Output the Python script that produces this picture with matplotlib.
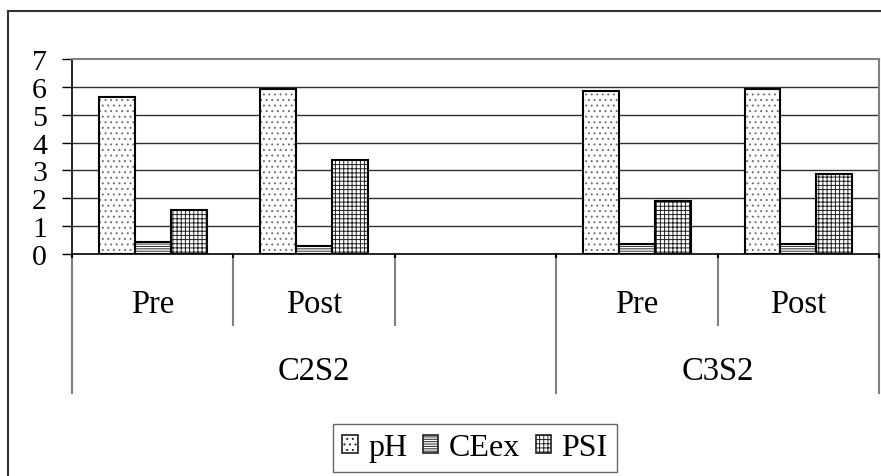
import numpy as np
import matplotlib
matplotlib.use("Agg")
import matplotlib.pyplot as plt
from matplotlib.lines import Line2D
from matplotlib.patches import Patch

plt.rcParams['font.family'] = ['Liberation Serif', 'DejaVu Serif']
plt.rcParams['hatch.linewidth'] = 0.7

# soil measurements per water class, before and after
groups = ['C2S2', 'C3S2']
group_span = [(0, 3), (3, 5)]          # slots covered by each group
periods = ['Pre', 'Post', '', 'Pre', 'Post']
series = ['pH', 'CEex', 'PSI']
ph = [5.65, 5.94, np.nan, 5.85, 5.94]
ceex = [0.44, 0.27, np.nan, 0.36, 0.36]
psi = [1.58, 3.37, np.nan, 1.92, 2.86]

hatches = ['...', '-------', '++++']
hatch_cols = ['#707070', '#303030', '#202020']

W, H = 881, 477
fig = plt.figure(figsize=(W / 100, H / 100), dpi=100)
ax = fig.add_axes([72 / W, 1 - 255 / H, (879 - 72) / W, 195 / H])

n = len(periods)
x = np.arange(n) + 0.5
bw = 1 / 4.5
for k, vals in enumerate([ph, ceex, psi]):
    pos = x + (k - 1) * bw
    ax.bar(pos, vals, bw, color='white', edgecolor=hatch_cols[k],
           hatch=hatches[k], linewidth=0, zorder=3)
    ax.bar(pos, vals, bw, facecolor='none', edgecolor='black',
           linewidth=1.5, zorder=4)

ax.set_xlim(0, n)
ax.set_ylim(0, 7)
ax.set_yticks(range(8))
ax.tick_params(axis='y', labelsize=21.5, length=7, width=1, pad=11, color='black')
ax.set_xticks(range(n + 1))
ax.set_xticklabels([])
ax.tick_params(axis='x', length=3, width=1.5, color='black')
for yv in range(1, 7):
    ax.axhline(yv, color='#303030', lw=1, zorder=1)

ax.spines['left'].set_color('black')
ax.spines['bottom'].set_color('black')
ax.spines['left'].set_linewidth(1.2)
ax.spines['bottom'].set_linewidth(1.2)
for s in ['top', 'right']:
    ax.spines[s].set_color('#808080')
    ax.spines[s].set_linewidth(1.5)

# two-level category axis below the plot
tr = ax.get_xaxis_transform()
inner_y, outer_y = -0.364, -0.713
for i in range(n + 1):
    bottom = outer_y if any(i in span for span in group_span) else inner_y
    ax.plot([i, i], [0, bottom], color='#808080', lw=1.5, transform=tr,
            clip_on=False, zorder=0)
for i, lab in enumerate(periods):
    ax.text(i + 0.5, -0.256, lab, transform=tr, ha='center', va='center',
            fontsize=23.5)
for g, (a, b) in zip(groups, group_span):
    ax.text((a + b) / 2, -0.60, g, transform=tr, ha='center', va='center',
            fontsize=23.5)

# chart frame
fig.add_artist(Line2D([8 / W, 8 / W], [1 - 12 / H, 0], color='#333333', lw=1.5,
                      transform=fig.transFigure))
fig.add_artist(Line2D([8 / W, 1], [1 - 12 / H, 1 - 12 / H], color='#333333',
                      lw=1.5, transform=fig.transFigure))

handles = [Patch(facecolor='white', edgecolor='#202020', hatch=hatches[k],
                 linewidth=1.2) for k in range(3)]
leg = fig.legend(handles, series, loc='center', bbox_to_anchor=(475 / W, 1 - 449 / H),
                 ncol=3, fontsize=23, frameon=True, fancybox=False,
                 handlelength=0.48, handleheight=0.48, handletextpad=0.32,
                 columnspacing=0.5, borderpad=0.3, borderaxespad=0)
leg.get_frame().set_edgecolor('#404040')
leg.get_frame().set_linewidth(1)

fig.savefig('out.png', dpi=100)
